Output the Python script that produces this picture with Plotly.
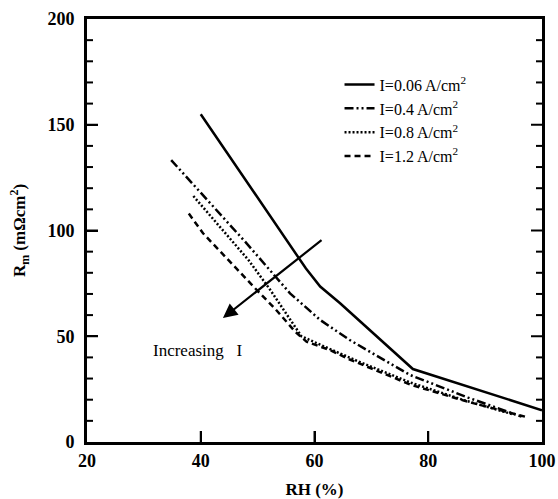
import plotly.graph_objects as go

# Data: RH (%) vs membrane resistance Rm (mOhm cm^2)
rh_006 = [40, 58.5, 61, 64.5, 77.3, 100]
rm_006 = [155, 82, 73.5, 65.6, 34.5, 15]

rh_04 = [34.8, 47.8, 55.7, 61, 66.2, 76.8, 87, 96.4]
rm_04 = [133.3, 94.7, 70.3, 57.7, 48.2, 31.7, 21, 12]

rh_08 = [38.7, 48.4, 52.2, 55.7, 57.7, 61, 67.1, 77, 86, 95]
rm_08 = [116.3, 86, 72, 57.7, 50, 46, 38.8, 28, 20, 13]

rh_12 = [37.9, 40.4, 50.4, 53, 56.6, 58.6, 62.7, 66.2, 77, 87, 97]
rm_12 = [108, 98.7, 70.3, 63.2, 52.2, 47.4, 43.5, 39, 27, 19, 12]

labels = ["I=0.06 A/cm<sup>2</sup>", "I=0.4 A/cm<sup>2</sup>",
          "I=0.8 A/cm<sup>2</sup>", "I=1.2 A/cm<sup>2</sup>"]

x_ticks = [20, 40, 60, 80, 100]
y_ticks = [0, 50, 100, 150, 200]
y_minor = [v for v in range(0, 201, 10) if v not in y_ticks]
x_range = [20, 100]
y_range = [0, 200]

FONT = "Liberation Serif"
fig = go.Figure()
series = [(rh_006, rm_006, "solid"),
          (rh_04, rm_04, "9px,3px,2px,3px,2px,3px"),
          (rh_08, rm_08, "2px,2px"),
          (rh_12, rm_12, "6px,4px")]
for (x, y, dash), name in zip(series, labels):
    fig.add_trace(go.Scatter(x=x, y=y, mode="lines", name=name,
                             line=dict(color="black", width=2.5, dash=dash)))

fig.add_annotation(x=43.9, y=58.6, ax=61.5, ay=96, xref="x", yref="y",
                   axref="x", ayref="y", text="", showarrow=True,
                   arrowhead=2, arrowsize=1.3, arrowwidth=2.2, arrowcolor="black")
fig.add_annotation(x=39.5, y=43.5, xref="x", yref="y", text="Increasing   I",
                   showarrow=False, font=dict(family=FONT, size=17, color="black"))

# inward tick marks, placed through the axis scales (pixel-length lines)
tick_line = dict(color="black", width=2)
for v in x_ticks[1:-1]:
    fig.add_shape(type="line", xref="x", yref="y", x0=v, x1=v,
                  ysizemode="pixel", yanchor=y_range[0], y0=0, y1=11,
                  line=tick_line, layer="above")
for vals, ln in ((y_ticks[1:-1], 11), (y_minor, 6)):
    for v in vals:
        for side, sign in ((0, 1), (1, -1)):
            fig.add_shape(type="line", xref="paper", yref="y", y0=v, y1=v,
                          xsizemode="pixel", xanchor=side, x0=0, x1=sign * ln,
                          line=tick_line, layer="above")

fig.update_layout(
    width=558, height=499,
    margin=dict(l=87, r=16, t=19, b=57),
    plot_bgcolor="white", paper_bgcolor="white",
    showlegend=True,
    legend=dict(x=0.555, y=0.885, xanchor="left", yanchor="top",
                bgcolor="rgba(0,0,0,0)", font=dict(family=FONT, size=16, color="black"),
                itemwidth=30, tracegroupgap=0),
    xaxis=dict(range=x_range, tickmode="array", tickvals=x_ticks,
               ticktext=[f"<b>{v}</b>" for v in x_ticks], automargin=False,
               showline=True, linewidth=3, linecolor="black", mirror=True,
               showgrid=False, zeroline=False, ticks="inside", ticklen=11,
               tickwidth=2, tickcolor="black",
               tickfont=dict(family=FONT, size=18, color="black"),
               title=dict(text="<b>RH (%)</b>",
                          font=dict(family=FONT, size=17, color="black"), standoff=14)),
    yaxis=dict(range=y_range, tickmode="array", tickvals=y_ticks,
               ticktext=[f"<b>{v}</b>" for v in y_ticks], automargin=False,
               showline=True, linewidth=3, linecolor="black", mirror=True,
               showgrid=False, zeroline=False, ticks="inside", ticklen=11,
               tickwidth=2, tickcolor="black",
               ticklabelstandoff=6,
               tickfont=dict(family=FONT, size=18, color="black"),
               title=dict(text="<b>R<sub>m</sub> (mΩcm<sup>2</sup>)</b>",
                          font=dict(family=FONT, size=17, color="black"), standoff=18)),
)

fig.write_html("out.html")
